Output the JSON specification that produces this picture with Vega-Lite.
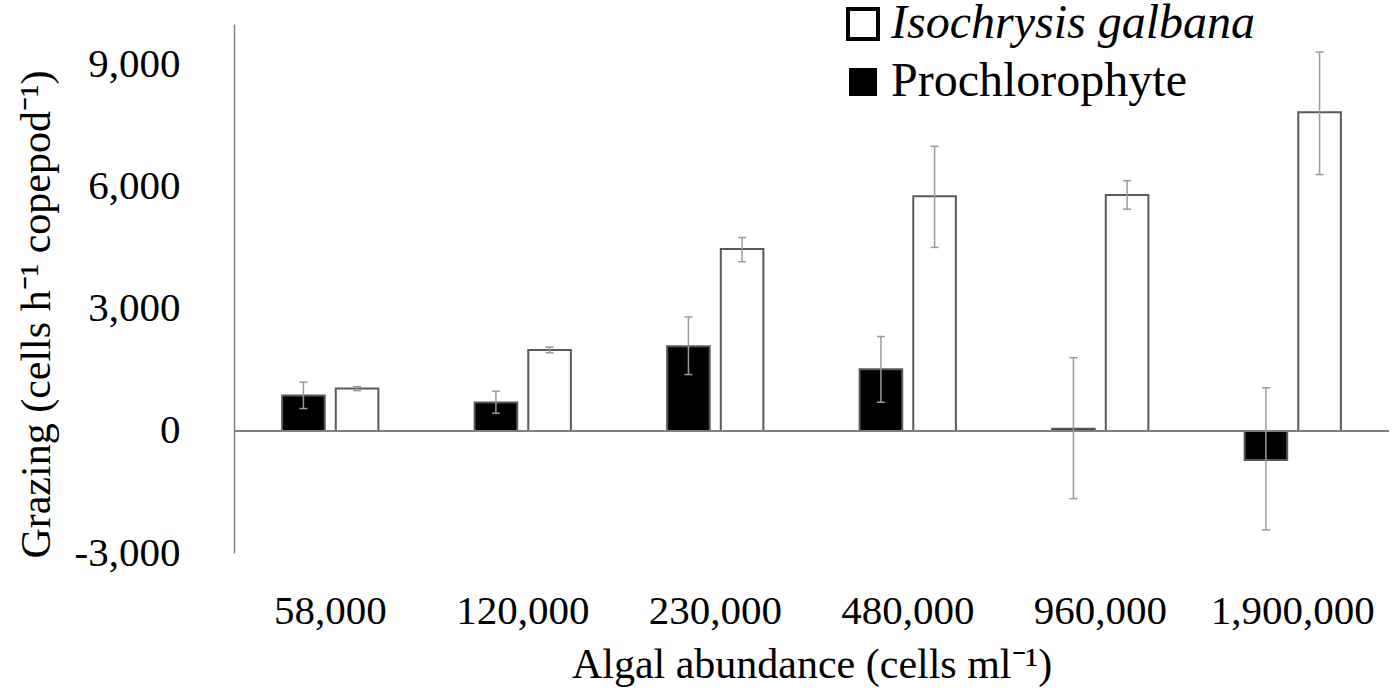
{
  "$schema": "https://vega.github.io/schema/vega-lite/v6.json",
  "width": 1155,
  "height": 529,
  "autosize": {"type": "none"},
  "padding": {"left": 234, "top": 24, "right": 4, "bottom": 135},
  "background": "white",
  "config": {
    "view": {"stroke": null},
    "font": "Liberation Serif",
    "axis": {"labelFont": "Liberation Serif", "titleFont": "Liberation Serif"},
    "legend": {"labelFont": "Liberation Serif", "titleFont": "Liberation Serif"}
  },
  "data": {
    "values": [
      {"abundance": "58,000", "species": "Prochlorophyte", "grazing": 870, "lo": 550, "hi": 1200},
      {"abundance": "58,000", "species": "Isochrysis galbana", "grazing": 1040, "lo": 990, "hi": 1090},
      {"abundance": "120,000", "species": "Prochlorophyte", "grazing": 700, "lo": 435, "hi": 975},
      {"abundance": "120,000", "species": "Isochrysis galbana", "grazing": 1990, "lo": 1920, "hi": 2060},
      {"abundance": "230,000", "species": "Prochlorophyte", "grazing": 2080, "lo": 1385, "hi": 2800},
      {"abundance": "230,000", "species": "Isochrysis galbana", "grazing": 4470, "lo": 4155, "hi": 4755},
      {"abundance": "480,000", "species": "Prochlorophyte", "grazing": 1515, "lo": 705, "hi": 2320},
      {"abundance": "480,000", "species": "Isochrysis galbana", "grazing": 5765, "lo": 4510, "hi": 6995},
      {"abundance": "960,000", "species": "Prochlorophyte", "grazing": 55, "lo": -1665, "hi": 1800},
      {"abundance": "960,000", "species": "Isochrysis galbana", "grazing": 5800, "lo": 5450, "hi": 6150},
      {"abundance": "1,900,000", "species": "Prochlorophyte", "grazing": -715, "lo": -2430, "hi": 1060},
      {"abundance": "1,900,000", "species": "Isochrysis galbana", "grazing": 7830, "lo": 6300, "hi": 9310}
    ]
  },
  "encoding": {
    "x": {
      "field": "abundance",
      "type": "nominal",
      "sort": ["58,000", "120,000", "230,000", "480,000", "960,000", "1,900,000"],
      "scale": {"paddingInner": 0.5, "paddingOuter": 0.25},
      "axis": {
        "title": "Algal abundance (cells ml⁻¹)",
        "domain": false,
        "ticks": false,
        "tickSize": 0,
        "labelAngle": 0,
        "labelFont": "Liberation Serif",
        "titleFont": "Liberation Serif",
        "labelFontSize": 41,
        "labelColor": "black",
        "labelPadding": 38,
        "titleFontSize": 42,
        "titleFontWeight": "normal",
        "titleColor": "black",
        "titlePadding": 13
      }
    },
    "xOffset": {
      "field": "species",
      "type": "nominal",
      "sort": ["Prochlorophyte", "Isochrysis galbana"],
      "scale": {"paddingInner": 0.206, "paddingOuter": 0}
    }
  },
  "layer": [
    {
      "mark": {"type": "bar", "stroke": "#595959", "strokeWidth": 2},
      "encoding": {
        "y": {
          "field": "grazing",
          "type": "quantitative",
          "scale": {"domain": [-3000, 10000], "nice": false},
          "axis": {
            "title": "Grazing (cells h⁻¹ copepod⁻¹)",
            "values": [-3000, 0, 3000, 6000, 9000],
            "labelExpr": "datum.value < 0 ? '-' + format(-datum.value, ',.0f') : format(datum.value, ',.0f')",
            "grid": false,
            "ticks": false,
            "tickSize": 0,
            "domainColor": "#808080",
            "domainWidth": 1.5,
            "labelFont": "Liberation Serif",
            "titleFont": "Liberation Serif",
            "labelFontSize": 41,
            "labelColor": "black",
            "labelPadding": 54,
            "titleFontSize": 42,
            "titleFontWeight": "normal",
            "titleColor": "black",
            "titlePadding": 16,
            "titleY": 290
          }
        },
        "fill": {
          "field": "species",
          "type": "nominal",
          "scale": {"domain": ["Isochrysis galbana", "Prochlorophyte"], "range": ["white", "black"]},
          "legend": {
            "orient": "none",
            "legendX": 605,
            "legendY": -24,
            "title": null,
            "padding": 0,
            "labelFont": "Liberation Serif",
            "labelFontSize": 48,
            "labelColor": "black",
            "labelLimit": 0,
            "labelOffset": 4,
            "rowPadding": 10,
            "symbolType": "square",
            "symbolSize": 900,
            "symbolStrokeColor": "black",
            "symbolStrokeWidth": 4,
            "symbolOpacity": 1,
            "encode": {
              "symbols": {
                "update": {
                  "strokeWidth": {"signal": "datum.value === 'Prochlorophyte' ? 0 : 4"},
                  "size": {"signal": "datum.value === 'Prochlorophyte' ? 784 : 900"}
                }
              },
              "labels": {
                "update": {
                  "fontStyle": {"signal": "datum.value === 'Isochrysis galbana' ? 'italic' : 'normal'"}
                }
              }
            }
          }
        }
      }
    },
    {
      "mark": {"type": "rule", "color": "#808080", "strokeWidth": 1.5},
      "encoding": {"y": {"datum": 0, "type": "quantitative"}, "x": null, "xOffset": null}
    },
    {
      "mark": {"type": "rule", "color": "#9a9a9a", "strokeWidth": 1.5},
      "encoding": {
        "y": {"field": "lo", "type": "quantitative"},
        "y2": {"field": "hi"}
      }
    },
    {
      "mark": {"type": "tick", "color": "#9a9a9a", "size": 8, "thickness": 1.5, "opacity": 1},
      "encoding": {"y": {"field": "lo", "type": "quantitative"}}
    },
    {
      "mark": {"type": "tick", "color": "#9a9a9a", "size": 8, "thickness": 1.5, "opacity": 1},
      "encoding": {"y": {"field": "hi", "type": "quantitative"}}
    }
  ]
}
